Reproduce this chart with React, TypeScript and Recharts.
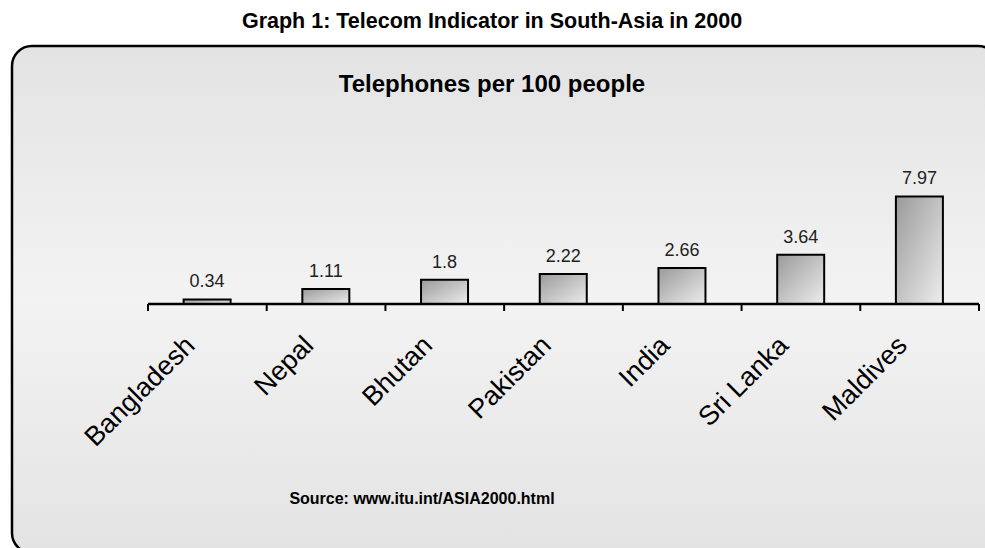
import React from 'react';
import { BarChart, Bar, XAxis, YAxis, LabelList } from 'recharts';

const countries = ['Bangladesh', 'Nepal', 'Bhutan', 'Pakistan', 'India', 'Sri Lanka', 'Maldives'];
const phonesPer100 = [0.34, 1.11, 1.8, 2.22, 2.66, 3.64, 7.97];

const chartTitle = 'Graph 1: Telecom Indicator in South-Asia in 2000';
const panelTitle = 'Telephones per 100 people';
const sourceNote = 'Source: www.itu.int/ASIA2000.html';

const data = countries.map((name, i) => ({ name, value: phonesPer100[i] }));

const W = 985;
const H = 548;
const FONT = '"Liberation Sans", Arial, Helvetica, sans-serif';
const MARGIN = { top: 169, right: 6, left: 148, bottom: 44 };
const X_AXIS_HEIGHT = 200;
const BAND = (W - MARGIN.left - MARGIN.right) / countries.length;

const CountryTick = (props: any) => {
  const { x, y, payload, index } = props;
  const axisY = y - 8;
  const ax = x - 11;
  const ay = axisY + 43;
  return (
    <g>
      <line x1={x - BAND / 2} y1={axisY} x2={x - BAND / 2} y2={axisY + 7} stroke="#000" strokeWidth={2} />
      {index === countries.length - 1 && (
        <line x1={x + BAND / 2} y1={axisY} x2={x + BAND / 2} y2={axisY + 7} stroke="#000" strokeWidth={2} />
      )}
      <text
        x={ax}
        y={ay}
        textAnchor="end"
        transform={`rotate(-45 ${ax} ${ay})`}
        fontSize={27}
        fontFamily={FONT}
        fill="#000"
      >
        {payload.value}
      </text>
    </g>
  );
};

export default function App() {
  return (
    <div style={{ position: 'absolute', left: 0, top: 0, width: W, height: H, background: '#fff', overflow: 'hidden' }}>
      <svg width={W} height={H} style={{ position: 'absolute', left: 0, top: 0 }}>
        <defs>
          <linearGradient id="panelShade" x1="0" y1="0" x2="0" y2="1">
            <stop offset="0%" stopColor="#e3e3e3" />
            <stop offset="50%" stopColor="#f3f3f3" />
            <stop offset="100%" stopColor="#e3e3e3" />
          </linearGradient>
          <linearGradient id="barShade" x1="0" y1="0" x2="1" y2="1">
            <stop offset="0%" stopColor="#9a9a9a" />
            <stop offset="100%" stopColor="#ededed" />
          </linearGradient>
        </defs>
        <text x={492} y={28} textAnchor="middle" fontSize={21.5} fontWeight="bold" fontFamily={FONT} fill="#000">
          {chartTitle}
        </text>
        <rect x={12} y={46} width={986} height={507} rx={20} ry={20} fill="url(#panelShade)" stroke="#000" strokeWidth={2.5} />
        <text x={492} y={92} textAnchor="middle" fontSize={24} fontWeight="bold" fontFamily={FONT} fill="#000">
          {panelTitle}
        </text>
        <text x={422} y={504} textAnchor="middle" fontSize={16} fontWeight="bold" fontFamily={FONT} fill="#000">
          {sourceNote}
        </text>
      </svg>
      <div style={{ position: 'absolute', left: 0, top: 0 }}>
        <BarChart width={W} height={H} data={data} margin={MARGIN} barCategoryGap="30%">
          <YAxis hide domain={[0, 10]} />
          <XAxis
            dataKey="name"
            height={X_AXIS_HEIGHT}
            interval={0}
            tickLine={false}
            axisLine={{ stroke: '#000', strokeWidth: 2.5 }}
            tick={<CountryTick />}
          />
          <Bar dataKey="value" fill="url(#barShade)" stroke="#000" strokeWidth={2} isAnimationActive={false}>
            <LabelList dataKey="value" position="top" offset={12} fontSize={18} fontFamily={FONT} fill="#222" />
          </Bar>
        </BarChart>
      </div>
    </div>
  );
}
